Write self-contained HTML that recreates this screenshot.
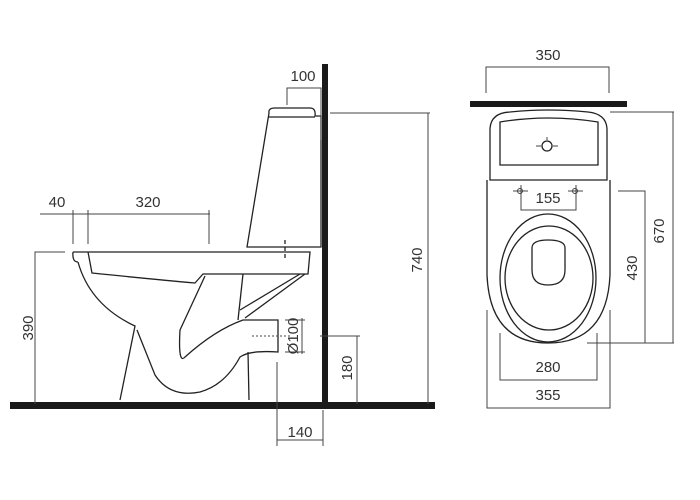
<!DOCTYPE html>
<html><head><style>body{margin:0;background:#fff}svg{display:block}</style></head><body>
<svg width="700" height="500" viewBox="0 0 700 500" xmlns="http://www.w3.org/2000/svg" font-family="Liberation Sans, sans-serif" font-size="15" fill="#333">
<g fill="none" stroke="#222" stroke-width="1.3">
<path d="M269,113 Q268,108 275,108 L310,108 Q316,108 315,116 L321,116 L321,247 L247,247 Z"/>
<line x1="268" y1="117" x2="315" y2="117"/>
<path d="M73,252 L310,252 L308,274 L203,274 L195,283 Q160,280 92,273 L88,252"/>
<path d="M73,252 Q72,262 78,262"/>
<path d="M78,262 Q90,305 135,326 L120,400"/>
<path d="M137,330 L155,375 Q170,398 200,392 Q225,385 240,357 Q250,350 278,352 L278,320 L243,320 Q215,330 185,357 Q178,365 180,330 L205,276"/>
<line x1="243" y1="274" x2="238" y2="320"/>
<path d="M305,274 L245,318"/>
<path d="M300,274 L240,310"/>
<line x1="248" y1="352" x2="249" y2="400"/>
<line x1="285" y1="240" x2="285" y2="260" stroke-dasharray="4,3"/>
</g>
<rect x="10" y="402" width="425" height="7" fill="#1a1a1a"/>
<rect x="322" y="64" width="6" height="345" fill="#1a1a1a"/>
<g fill="none" stroke="#444" stroke-width="1">
<polyline points="287,105 287,88 321,88 321,140"/>
<line x1="40" y1="214" x2="210" y2="214"/>
<line x1="73" y1="210" x2="73" y2="244"/><line x1="88" y1="210" x2="88" y2="244"/><line x1="209" y1="210" x2="209" y2="244"/>
<polyline points="65,252 35,252 35,404"/>
<line x1="285" y1="320" x2="305" y2="320"/><line x1="285" y1="352" x2="305" y2="352"/><line x1="302" y1="318" x2="302" y2="354"/>
<line x1="252" y1="336" x2="290" y2="336" stroke-dasharray="2,2"/>
<polyline points="320,336 360,336"/><line x1="357" y1="336" x2="357" y2="404"/>
<polyline points="330,113 430,113"/><line x1="428" y1="113" x2="428" y2="404"/>
<line x1="277" y1="362" x2="277" y2="446"/><line x1="323" y1="410" x2="323" y2="446"/><line x1="277" y1="440" x2="323" y2="440"/>
</g>
<text x="303" y="81" text-anchor="middle">100</text>
<text x="57" y="207" text-anchor="middle">40</text>
<text x="148" y="207" text-anchor="middle">320</text>
<text transform="translate(33,328) rotate(-90)" text-anchor="middle">390</text>
<text transform="translate(298,336) rotate(-90)" text-anchor="middle">Ø100</text>
<text transform="translate(352,368) rotate(-90)" text-anchor="middle">180</text>
<text transform="translate(422,260) rotate(-90)" text-anchor="middle">740</text>
<text x="300" y="437" text-anchor="middle">140</text>
<rect x="470" y="101" width="157" height="6" fill="#1a1a1a"/>
<g fill="none" stroke="#222" stroke-width="1.3">
<path d="M490,180 L490,130 Q490,113 510,112 Q548,108 588,112 Q607,114 607,130 L607,180 Z"/>
<path d="M500,165 L500,122 Q548,114 598,122 L598,165 Z"/>
<circle cx="547" cy="146" r="5"/>
<path d="M487,180 L487,275 Q490,343 548,343 Q607,343 610,275 L610,180"/>
<ellipse cx="548" cy="278" rx="48" ry="64"/>
<ellipse cx="549" cy="278" rx="44" ry="52"/>
<path d="M532,248 Q532,240 548,240 Q565,240 565,248 L565,270 Q565,285 548,285 Q532,285 532,270 Z"/>
</g>
<g fill="none" stroke="#444" stroke-width="1">
<line x1="541" y1="146" x2="536" y2="146"/><line x1="553" y1="146" x2="558" y2="146"/><line x1="547" y1="137" x2="547" y2="140"/>
<circle cx="520" cy="191" r="2.5"/><circle cx="575" cy="191" r="2.5"/>
<line x1="513" y1="191" x2="528" y2="191"/><line x1="568" y1="191" x2="583" y2="191"/>
<polyline points="521,185 521,210 576,210 576,185"/>
<polyline points="486,93 486,67 609,67 609,93"/>
<polyline points="610,112 674,112"/><line x1="673" y1="112" x2="673" y2="343"/><line x1="587" y1="343" x2="674" y2="343"/>
<polyline points="618,191 645,191 645,343"/>
<polyline points="500,333 500,380 597,380 597,333"/>
<polyline points="487,310 487,408 610,408 610,310"/>
</g>
<text x="548" y="60" text-anchor="middle">350</text>
<text x="548" y="203" text-anchor="middle">155</text>
<text x="548" y="372" text-anchor="middle">280</text>
<text x="548" y="400" text-anchor="middle">355</text>
<text transform="translate(637,268) rotate(-90)" text-anchor="middle">430</text>
<text transform="translate(664,231) rotate(-90)" text-anchor="middle">670</text>
</svg>
</body></html>
